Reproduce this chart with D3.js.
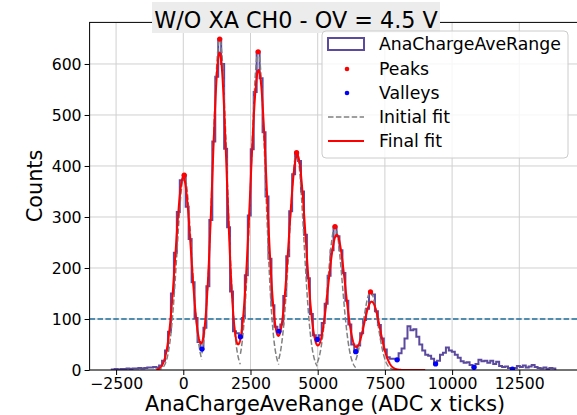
<!DOCTYPE html>
<html><head><meta charset="utf-8">
<script src="https://cdn.jsdelivr.net/npm/d3@7"></script>
<style>html,body{margin:0;padding:0;background:#fff;overflow:hidden}svg{display:block}text{font-family:"DejaVu Sans",sans-serif}</style>
</head><body>
<svg id="c" width="577" height="415"></svg>
<script>
// ---- data ----
const titleText = "W/O XA CH0 - OV = 4.5 V";
const xLabel = "AnaChargeAveRange (ADC x ticks)";
const yLabel = "Counts";
const histName = "AnaChargeAveRange";
const binLow = -2660;
const binWidth = 110;
const counts = [
  1,2,1,2,2,3,2,3,3,4,3,4,5,5,6,5,9,18,38,75,
  150,230,310,372,382,320,257,172,102,55,41,83,164,294,448,575,649,600,434,280,
  154,76,72,65,102,186,303,433,545,624,572,466,340,218,127,85,76,89,145,223,
  311,384,426,410,350,265,180,110,68,60,68,92,130,185,235,281,262,235,190,136,
  89,50,36,48,72,98,120,153,148,115,88,62,40,25,22,22,20,33,42,62,
  86,78,80,65,50,38,30,28,22,12,18,30,34,44,38,36,30,24,17,14,
  15,10,5,12,20,17,18,14,18,12,16,8,6,7,4,2,4,8,6,9,
  5,7,10,6,4,3,5,2,4,3
];
const peakX = [35, 1355, 2785, 4215, 5645, 6965];
const peakY = [382, 649, 624, 426, 281, 153];
const valleyX = [695, 2125, 3555, 4985, 6415, 7955, 9385, 10815, 12245];
const valleyY = [41, 65, 76, 60, 36, 20, 12, 5, 2];
// Gaussian fit parameters
const finalMeans = [0, 1350, 2800, 4241, 5707, 7009];
const finalAmps = [378, 622, 588, 421, 265, 134];
const finalSigmas = [290, 270, 305, 316, 324, 309];
const initSigmas = [270, 270, 270, 270, 270, 270];
const fitStart = -1000, fitEnd = 9000;
const threshold = 100;
const xTicks = [-2500, 0, 2500, 5000, 7500, 10000, 12500];
const yTicks = [0, 100, 200, 300, 400, 500, 600];
const xDomain = [-3485, 14665];
const yDomain = [0, 681.5];

// ---- drawing ----
const svg = d3.select("#c");
const L = 89.6, R = 577.5, T = 22.4, B = 370;
const x = d3.scaleLinear().domain(xDomain).range([L, R]);
const y = d3.scaleLinear().domain(yDomain).range([B, T]);

const purple = "#5b4a9e";
const plot = svg.append("g");
svg.append("defs").append("clipPath").attr("id","clip")
  .append("rect").attr("x",L).attr("y",T).attr("width",R-L).attr("height",B-T);

// grid
plot.append("g").selectAll("line").data(xTicks).join("line")
  .attr("x1",d=>x(d)).attr("x2",d=>x(d)).attr("y1",T).attr("y2",B)
  .attr("stroke","#d0d0d0").attr("stroke-width",1);
plot.append("g").selectAll("line").data(yTicks).join("line")
  .attr("x1",L).attr("x2",R).attr("y1",d=>y(d)).attr("y2",d=>y(d))
  .attr("stroke","#d0d0d0").attr("stroke-width",1);

const g = plot.append("g").attr("clip-path","url(#clip)");

// threshold line
g.append("line").attr("x1",L).attr("x2",R).attr("y1",y(threshold)).attr("y2",y(threshold))
  .attr("stroke","#1f6f9f").attr("stroke-width",1.6).attr("stroke-dasharray","5.5,2.4");

// histogram step
const pts = [];
pts.push([binLow, 0]);
counts.forEach((c,i)=>{ pts.push([binLow+i*binWidth, c]); pts.push([binLow+(i+1)*binWidth, c]); });
pts.push([binLow+counts.length*binWidth, 0]);
g.append("path").attr("d", d3.line().x(d=>x(d[0])).y(d=>y(d[1]))(pts))
  .attr("fill","none").attr("stroke",purple).attr("stroke-width",2).attr("stroke-linejoin","miter");

// initial fit: each gaussian between neighbouring valleys
const bounds = [fitStart].concat(valleyX);
peakX.forEach((m,k)=>{
  const a = bounds[k], b = bounds[k+1];
  const p = d3.range(a, b+1, 10).map(v=>[v, peakY[k]*Math.exp(-((v-m)**2)/(2*initSigmas[k]**2))]);
  g.append("path").attr("d", d3.line().x(d=>x(d[0])).y(d=>y(d[1]))(p))
    .attr("fill","none").attr("stroke","#808080").attr("stroke-width",1.5).attr("stroke-dasharray","5.5,2.4");
});

// final fit
const fp = d3.range(fitStart, fitEnd+1, 10).map(v=>{
  let s = 0; finalMeans.forEach((m,k)=>{ s += finalAmps[k]*Math.exp(-((v-m)**2)/(2*finalSigmas[k]**2)); });
  return [v, s];
});
g.append("path").attr("d", d3.line().x(d=>x(d[0])).y(d=>y(d[1]))(fp))
  .attr("fill","none").attr("stroke","#ff0000").attr("stroke-width",2);

// markers
g.append("g").selectAll("circle").data(peakX).join("circle")
  .attr("cx",d=>x(d)).attr("cy",(d,i)=>y(peakY[i])).attr("r",2.6).attr("fill","#ff0000");
g.append("g").selectAll("circle").data(valleyX).join("circle")
  .attr("cx",d=>x(d)).attr("cy",(d,i)=>y(valleyY[i])).attr("r",2.6).attr("fill","#0000ff");

// axes
const xa = svg.append("g").attr("transform",`translate(0,${B})`)
  .call(d3.axisBottom(x).tickValues(xTicks).tickSize(5).tickPadding(3).tickFormat(d=>d<0?"\u2212"+Math.abs(d):String(d)));
const ya = svg.append("g").attr("transform",`translate(${L},0)`)
  .call(d3.axisLeft(y).tickValues(yTicks).tickSize(5).tickPadding(3));
[xa,ya].forEach(a=>{
  a.select(".domain").remove();
  a.selectAll("text").attr("font-size",15.7).attr("fill","#000").attr("font-family","DejaVu Sans");
  a.selectAll("line").attr("stroke","#000").attr("stroke-width",1);
});
// spines
svg.append("rect").attr("x",L).attr("y",T).attr("width",R-L).attr("height",B-T)
  .attr("fill","none").attr("stroke","#000").attr("stroke-width",1);

// labels
svg.append("text").attr("x",325).attr("y",411).attr("text-anchor","middle")
  .attr("font-size",20.8).text(xLabel);
svg.append("text").attr("transform","translate(41.5,186) rotate(-90)").attr("text-anchor","middle")
  .attr("font-size",20.8).text(yLabel);

// title with box
const tg = svg.append("g");
const tb = tg.append("rect").attr("fill","#ececec");
const tt = tg.append("text").attr("x",296).attr("y",28).attr("text-anchor","middle")
  .attr("font-size",22.3).text(titleText);
tb.attr("x",152).attr("y",2).attr("width",288).attr("height",31);

// legend
const lg = svg.append("g");
lg.append("rect").attr("x",322).attr("y",31).attr("width",246).attr("height",127).attr("rx",4)
  .attr("fill","#fff").attr("fill-opacity",0.8).attr("stroke","#cccccc").attr("stroke-width",1);
const rows = [44, 69, 93, 117, 141];
const names = [histName, "Peaks", "Valleys", "Initial fit", "Final fit"];
lg.append("rect").attr("x",328).attr("y",rows[0]-6).attr("width",36).attr("height",12)
  .attr("fill","none").attr("stroke",purple).attr("stroke-width",2);
lg.append("circle").attr("cx",347).attr("cy",rows[1]).attr("r",2.3).attr("fill","#ff0000");
lg.append("circle").attr("cx",347).attr("cy",rows[2]).attr("r",2.3).attr("fill","#0000ff");
lg.append("line").attr("x1",328).attr("x2",364).attr("y1",rows[3]).attr("y2",rows[3])
  .attr("stroke","#808080").attr("stroke-width",1.5).attr("stroke-dasharray","5.5,2.4");
lg.append("line").attr("x1",328).attr("x2",364).attr("y1",rows[4]).attr("y2",rows[4])
  .attr("stroke","#ff0000").attr("stroke-width",2);
lg.selectAll("text.l").data(names).join("text").attr("class","l")
  .attr("x",379).attr("y",(d,i)=>rows[i]+6.2).attr("font-size",17.3).text(d=>d);
</script>
</body></html>
